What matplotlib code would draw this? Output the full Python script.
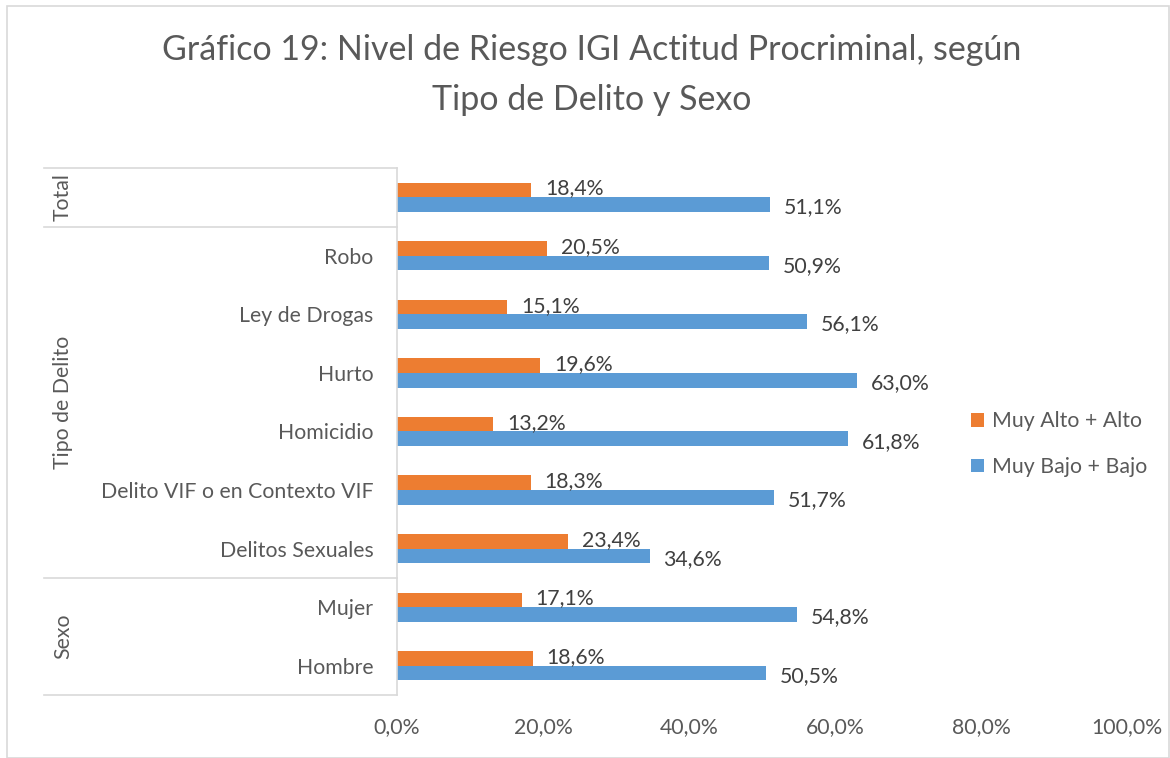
import matplotlib.pyplot as plt
import matplotlib.transforms as mtransforms
from matplotlib.patches import Rectangle
import numpy as np

plt.rcParams['font.family'] = ['Lato', 'DejaVu Sans']

categories = ['', 'Robo', 'Ley de Drogas', 'Hurto', 'Homicidio',
              'Delito VIF o en Contexto VIF', 'Delitos Sexuales', 'Mujer', 'Hombre']
groups = [('Total', 0, 0), ('Tipo de Delito', 1, 6), ('Sexo', 7, 8)]
alto = [18.4, 20.5, 15.1, 19.6, 13.2, 18.3, 23.4, 17.1, 18.6]
bajo = [51.1, 50.9, 56.1, 63.0, 61.8, 51.7, 34.6, 54.8, 50.5]
xticks = [0, 20, 40, 60, 80, 100]

gray = '#595959'
line_gray = '#D9D9D9'
orange = '#ED7D31'
blue = '#5B9BD5'
fs = 15.3

fig = plt.figure(figsize=(11.7, 7.58), dpi=100)
fig.patches.append(Rectangle((7 / 1170, 0), 1 - 8 / 1170, 1 - 6 / 758,
                             transform=fig.transFigure, fill=False,
                             edgecolor=line_gray, linewidth=1.2))

ax = fig.add_axes([397 / 1170, 1 - 695 / 758, 730 / 1170, 527 / 758])

y = np.arange(len(categories))
h = 0.25
ax.barh(y - h / 2, alto, height=h, color=orange, label='Muy Alto + Alto')
ax.barh(y + h / 2, bajo, height=h, color=blue, label='Muy Bajo + Bajo')

for yi, a, b in zip(y, alto, bajo):
    ax.annotate(f'{a:.1f}%'.replace('.', ','), (a, yi - h / 2), xytext=(10, 1),
                textcoords='offset points', va='center', ha='left',
                fontsize=fs, color='#404040')
    ax.annotate(f'{b:.1f}%'.replace('.', ','), (b, yi + h / 2), xytext=(10, -2),
                textcoords='offset points', va='center', ha='left',
                fontsize=fs, color='#404040')

ax.set_xlim(0, 100)
ax.set_ylim(len(categories) - 0.5, -0.5)
ax.set_xticks(xticks)
ax.set_xticklabels([f'{t:.1f}%'.replace('.', ',') for t in xticks],
                   fontsize=fs, color=gray)
ax.set_yticks(y)
ax.set_yticklabels(categories, fontsize=fs, color=gray)
ax.tick_params(axis='x', length=0, pad=16)
ax.tick_params(axis='y', length=0, pad=17)
for s in ['top', 'right', 'bottom']:
    ax.spines[s].set_visible(False)
ax.spines['left'].set_color(line_gray)
ax.spines['left'].set_linewidth(1.2)

# multi-level category box
trans = mtransforms.blended_transform_factory(ax.transAxes, ax.transData)
x_left = (44 - 397) / 730
for yb in [-0.5, 0.5, 6.5, 8.5]:
    ax.plot([x_left, 0], [yb, yb], transform=trans, color=line_gray,
            linewidth=1.2, clip_on=False)
for name, a, b in groups:
    ax.text((63 - 397) / 730, (a + b) / 2, name, transform=trans, rotation=90,
            ha='center', va='center', fontsize=fs, color=gray)

leg = ax.legend(loc='center left', bbox_to_anchor=(0.76, 0.476), frameon=False,
                fontsize=fs, handlelength=0.6, handleheight=0.6,
                labelspacing=1.2, handletextpad=0.4)
for t in leg.get_texts():
    t.set_color(gray)

fig.text(592 / 1170, 1 - 50 / 758, 'Gráfico 19: Nivel de Riesgo IGI Actitud Procriminal, según',
         ha='center', va='center', fontsize=24.5, color=gray)
fig.text(592 / 1170, 1 - 100 / 758, 'Tipo de Delito y Sexo',
         ha='center', va='center', fontsize=24.5, color=gray)

fig.savefig('out.png', dpi=100)
